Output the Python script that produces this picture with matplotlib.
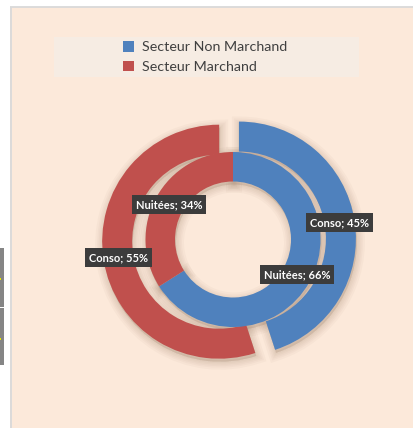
import matplotlib
matplotlib.use("Agg")
import matplotlib.pyplot as plt
from matplotlib.patches import Rectangle, Patch

# ---- data ----
categories = ["Secteur Non Marchand", "Secteur Marchand"]
conso = [45, 55]      # outer ring
nuitees = [66, 34]    # inner ring
ring_names = ["Conso", "Nuitées"]
colors = ["#4F81BD", "#C0504D"]

W, H = 414, 428
fig = plt.figure(figsize=(W / 100, H / 100), dpi=100)
fig.patch.set_facecolor("white")
ax = fig.add_axes([0, 0, 1, 1])

def py(y):  # pixel-from-top -> axis y
    return H - y

# chart area (right/bottom edges run past the picture)
ax.add_patch(Rectangle((10, -20), W + 20, py(7) + 20, facecolor="#FCE9DA",
                       edgecolor="none", zorder=0))
ax.plot([10.7, 10.7], [-5, py(7)], color="#D9D9D9", linewidth=1.3, zorder=0.5,
        solid_capstyle="butt")
ax.plot([10, W + 5], [py(7.3), py(7.3)], color="#D9D9D9", linewidth=1.3, zorder=0.5,
        solid_capstyle="butt")
# clipped UI bits on the left
ax.add_patch(Rectangle((0, py(307)), 4, 59, facecolor="#858585", edgecolor="none", zorder=1))
ax.add_patch(Rectangle((0, py(365)), 4, 57, facecolor="#858585", edgecolor="none", zorder=1))
ax.add_patch(Rectangle((0, py(280)), 1.2, 2, facecolor="#E8E800", edgecolor="none", zorder=2))
ax.add_patch(Rectangle((0, py(340)), 1.2, 2, facecolor="#E8E800", edgecolor="none", zorder=2))

cx, cy = 233, py(239.5)
R_out, R_in, ring_w = 117, 87.5, 29.5
explode_out = [6, 14]

def label_fn(name, vals):
    it = iter([f"{name}; {v}%" for v in vals])
    return lambda p: next(it)

# soft shadows
for k, lw in enumerate([16, 12, 9, 6, 3]):
    for vals, R, ex in [(conso, R_out, explode_out), (nuitees, R_in, [0, 0])]:
        ax.pie(vals, radius=R, center=(cx + 1, cy - 3), explode=ex, startangle=90,
               counterclock=False, frame=True,
               wedgeprops=dict(width=ring_w, facecolor="#8A6A50", edgecolor="#8A6A50",
                               linewidth=lw * 0.72, alpha=0.045, zorder=2))

# outer ring (Conso)
w_out, _, t_out = ax.pie(conso, radius=R_out, center=(cx, cy), explode=explode_out,
                         startangle=90, counterclock=False, colors=colors, frame=True,
                         autopct=label_fn(ring_names[0], conso), pctdistance=102 / R_out,
                         wedgeprops=dict(width=ring_w + 0.5, edgecolor="none", zorder=3))
# inner ring (Nuitées)
w_in, _, t_in = ax.pie(nuitees, radius=R_in, center=(cx, cy),
                       startangle=90, counterclock=False, colors=colors, frame=True,
                       autopct=label_fn(ring_names[1], nuitees), pctdistance=72.75 / R_in,
                       wedgeprops=dict(width=ring_w, edgecolor="none", zorder=3))

for t in list(t_out) + list(t_in):
    t.set_color("white")
    t.set_fontsize(8.0)
    t.set_fontfamily("Lato")
    t.set_fontweight("bold")
    t.set_zorder(6)
    t.set_bbox(dict(boxstyle="square,pad=0.35", facecolor="#3C3C3C", edgecolor="none"))

# legend box
ax.add_patch(Rectangle((54, py(77)), 305, 40, facecolor="#F6ECE3", edgecolor="none", zorder=1))
handles = [Patch(facecolor=c, edgecolor="none") for c in colors]
leg = ax.legend(handles, categories, loc="center", bbox_to_anchor=(205 / W, py(57) / H),
                frameon=False, prop=dict(family="Lato", size=10.3), labelcolor="#404040",
                handlelength=0.75, handleheight=0.75, handletextpad=0.55, labelspacing=0.5,
                borderpad=0)

ax.set_xlim(0, W)
ax.set_ylim(0, H)
ax.set_aspect("equal")
ax.axis("off")
for s in ax.spines.values():
    s.set_visible(False)
fig.savefig("out.png", dpi=100)
